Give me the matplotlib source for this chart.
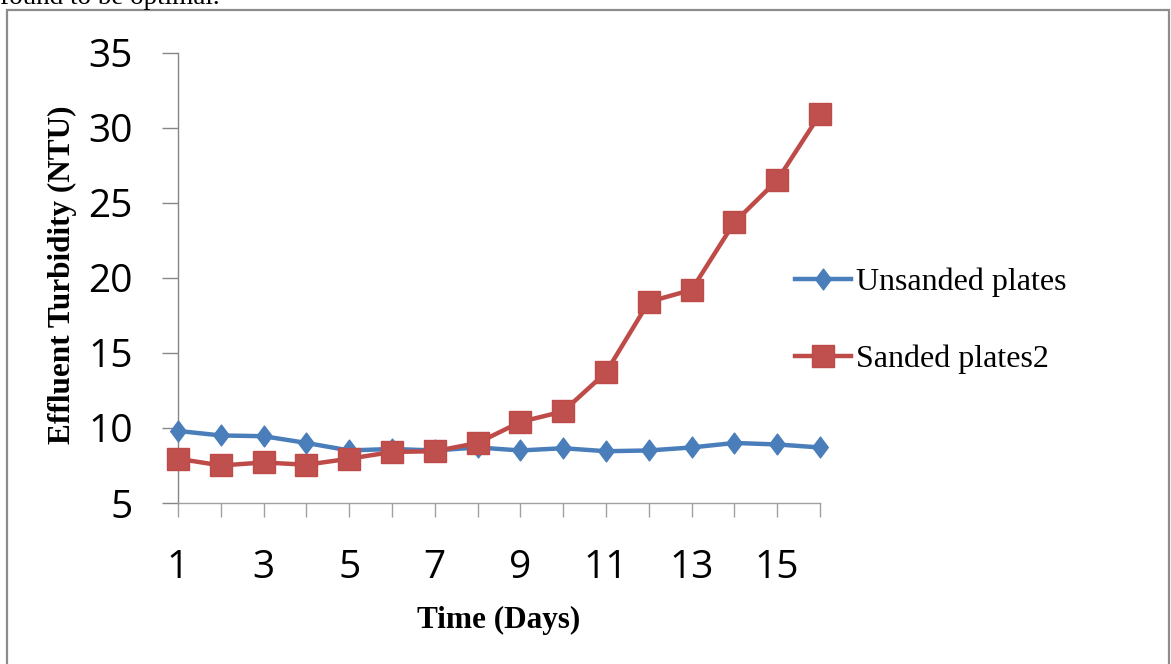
from matplotlib import pyplot as plt
from matplotlib.patches import Rectangle
from matplotlib.path import Path
import numpy as np

# days of the run
days = np.arange(1, 17)

# effluent turbidity (NTU)
unsanded = [9.8, 9.5, 9.45, 9.0, 8.5, 8.6, 8.5, 8.7, 8.5, 8.65, 8.45, 8.5, 8.7, 9.0, 8.9, 8.7]
sanded = [7.95, 7.5, 7.7, 7.55, 7.95, 8.4, 8.45, 9.0, 10.4, 11.1, 13.7, 18.4, 19.2, 23.7, 26.5, 30.9]

series_names = ["Unsanded plates", "Sanded plates2"]
x_ticks = [1, 3, 5, 7, 9, 11, 13, 15]
y_ticks = [5, 10, 15, 20, 25, 30, 35]

blue = "#4a7ebb"
red = "#be4b48"
grey = "#868686"
serif = "Liberation Serif"
sans = "Open Sans"

W, H = 1171, 664
fig = plt.figure(figsize=(W / 100, H / 100), dpi=100)

# page frame around the chart and the cut-off sentence above it
fig.patches.append(Rectangle((7 / W, -0.1), 1162 / W, 1.1 - 10 / H, transform=fig.transFigure,
                             fill=False, edgecolor="#8c8c8c", linewidth=1.6))
fig.text(0.0, 1 - 4 / H, "found to be optimal.", family=serif, fontsize=19.5, va="baseline", ha="left")

ax = fig.add_axes([178 / W, 1 - 503 / H, (820 - 178) / W, (503 - 52.7) / H])

# thin-ish diamond like the spreadsheet one
diamond = Path([(0, 1), (0.75, 0), (0, -1), (-0.75, 0), (0, 1)],
               [Path.MOVETO, Path.LINETO, Path.LINETO, Path.LINETO, Path.CLOSEPOLY])

ax.plot(days, unsanded, color=blue, lw=3.2, marker=diamond, ms=15, mfc=blue, mec=blue,
        label=series_names[0], clip_on=False, zorder=3)
ax.plot(days, sanded, color=red, lw=3.2, marker="s", ms=15.5, mfc="#c0504d", mec=red,
        label=series_names[1], clip_on=False, zorder=4)

ax.set_xlim(1, 16)
ax.set_ylim(5, 35)

ax.spines["top"].set_visible(False)
ax.spines["right"].set_visible(False)
ax.spines["left"].set_color(grey)
ax.spines["left"].set_linewidth(1.0)
ax.spines["bottom"].set_color("#a0a0a0")
ax.spines["bottom"].set_linewidth(1.0)
ax.spines["bottom"].set_linestyle((0, (1, 1)))

ax.set_yticks(y_ticks)
ax.set_yticklabels([str(t) for t in y_ticks], family=sans, fontsize=28)
ax.tick_params(axis="y", direction="out", length=11.5, width=1.0, color=grey, pad=21)

ax.set_xticks(x_ticks)
ax.set_xticklabels([str(t) for t in x_ticks], family=sans, fontsize=28)
ax.set_xticks(days, minor=True)
ax.tick_params(axis="x", which="both", direction="out", length=10, width=1.0, color="#a0a0a0", pad=23)
for t in ax.xaxis.get_ticklines(minor=True) + ax.xaxis.get_ticklines():
    t.set_linestyle((0, (1, 1)))

fig.text(499 / W, 1 - 620 / H, "Time (Days)", family=serif, weight="bold", fontsize=22.5,
         ha="center", va="center")
fig.text(62 / W, 1 - 275 / H, "Effluent Turbidity (NTU)", family=serif, weight="bold", fontsize=22.5,
         ha="center", va="center", rotation=90)

fig.legend(loc="center left", bbox_to_anchor=(795 / W, 1 - 321 / H), frameon=False,
           prop={"family": serif, "size": 23}, handlelength=1.75, handletextpad=0.15,
           labelspacing=1.5, borderpad=0, borderaxespad=0)

fig.savefig("out.png", dpi=100)
